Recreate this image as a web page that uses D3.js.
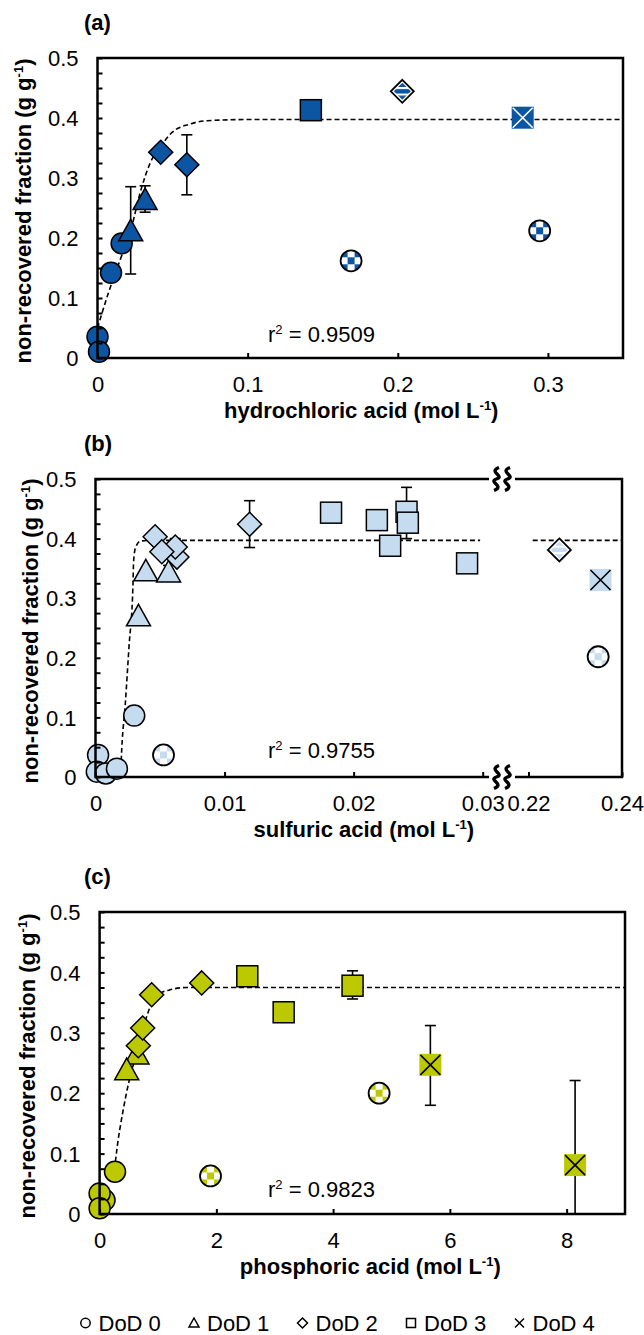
<!DOCTYPE html>
<html>
<head>
<meta charset="utf-8">
<script src="https://cdn.jsdelivr.net/npm/d3@7"></script>
<style>
body { margin: 0; background: #fff; }
svg text { font-family: "Liberation Sans", Arial, sans-serif; fill: #000; }
</style>
</head>
<body>
<svg id="chart" width="644" height="1335"></svg>
<script>
// rows: [acid concentration, non-recovered fraction, marker, error low, error high]
const hclPoints = [
    [0, 0.0355, 'circle'],
    [0.001, 0.0105, 'circle'],
    [0.009, 0.142, 'circle'],
    [0.0161, 0.191, 'circle'],
    [0.0221, 0.212, 'triangle', 0.14, 0.2855],
    [0.0317, 0.264, 'triangle', 0.243, 0.287],
    [0.0421, 0.343, 'diamond'],
    [0.0595, 0.322, 'diamond', 0.272, 0.372],
    [0.1421, 0.413, 'square'],
    [0.1689, 0.162, 'checker'],
    [0.203, 0.4445, 'stripe'],
    [0.2832, 0.4005, 'cross'],
    [0.2945, 0.212, 'checker']
];
const hclFit = [[0, 0.05], [0.0072, 0.108], [0.015, 0.163], [0.0228, 0.219], [0.0283, 0.2745],
    [0.035, 0.3245], [0.0428, 0.355], [0.0495, 0.3755], [0.0617, 0.39], [0.0728, 0.3955],
    [0.1017, 0.3975], [0.35, 0.3975]];

const sulfPoints = [
    [0.0002, 0.037, 'circle'],
    [0.0001, 0.009, 'circle'],
    [0.0008, 0.006, 'circle'],
    [0.00166, 0.014, 'circle'],
    [0.003, 0.103, 'circle'],
    [0.00527, 0.037, 'checker'],
    [0.00333, 0.2705, 'triangle'],
    [0.0039, 0.346, 'triangle'],
    [0.00566, 0.344, 'triangle', 0.33, 0.355],
    [0.00631, 0.369, 'diamond'],
    [0.00618, 0.386, 'diamond', 0.36, 0.40],
    [0.00462, 0.403, 'diamond'],
    [0.00514, 0.378, 'diamond'],
    [0.01194, 0.424, 'diamond', 0.385, 0.4636],
    [0.01825, 0.4435, 'square'],
    [0.0218, 0.431, 'square'],
    [0.02283, 0.388, 'square'],
    [0.0241, 0.445, 'square', 0.40, 0.486],
    [0.0242, 0.4267, 'square'],
    [0.02879, 0.3585, 'square'],
    [0.2266, 0.381, 'stripe'],
    [0.2354, 0.3305, 'cross'],
    [0.2349, 0.2018, 'checker']
];
const sulfFitLeft = [[0.00195, 0], [0.002, 0.03], [0.0023, 0.12], [0.0026, 0.22], [0.0029, 0.32],
    [0.00295, 0.36], [0.0031, 0.385], [0.0035, 0.396], [0.0045, 0.397], [0.0298, 0.397]];
const sulfFitRight = [[0.2209, 0.397], [0.24, 0.397]];

const phosPoints = [
    [0.085, 0.023, 'circle'],
    [0, 0.034, 'circle'],
    [0, 0.0095, 'circle'],
    [0.264, 0.070, 'circle'],
    [1.90, 0.063, 'checker'],
    [4.788, 0.200, 'checker'],
    [0.64, 0.265, 'triangle', 0.25, 0.28],
    [0.464, 0.239, 'triangle'],
    [0.663, 0.2786, 'diamond'],
    [0.738, 0.308, 'diamond'],
    [0.892, 0.363, 'diamond'],
    [1.749, 0.3826, 'diamond'],
    [2.53, 0.3936, 'square'],
    [3.153, 0.334, 'square'],
    [4.333, 0.378, 'square', 0.356, 0.4026],
    [5.666, 0.247, 'cross', 0.18, 0.312],
    [8.145, 0.081, 'cross', 0, 0.221]
];
const phosFit = [[0.24, 0.06], [0.3, 0.11], [0.4, 0.17], [0.5, 0.218], [0.6, 0.255], [0.7, 0.29],
    [0.8, 0.325], [0.9, 0.35], [1.0, 0.363], [1.2, 0.371], [1.5, 0.375], [9, 0.375]];

const yTicks = [0, 0.1, 0.2, 0.3, 0.4, 0.5];
const yTickLabels = ['0', '0.1', '0.2', '0.3', '0.4', '0.5'];
const hclTicks = [0, 0.1, 0.2, 0.3];
const hclTickLabels = ['0', '0.1', '0.2', '0.3'];
const sulfTicksLeft = [0, 0.01, 0.02, 0.03];
const sulfTickLabelsLeft = ['0', '0.01', '0.02', '0.03'];
const sulfTicksRight = [0.22, 0.24];
const sulfTickLabelsRight = ['0.22', '0.24'];
const phosTicks = [0, 2, 4, 6, 8];
const phosTickLabels = ['0', '2', '4', '6', '8'];

const rSquared = ['0.9509', '0.9755', '0.9823'];
const panelLabels = ['(a)', '(b)', '(c)'];
const acidNames = ['hydrochloric acid', 'sulfuric acid', 'phosphoric acid'];
const legendLabels = ['DoD 0', 'DoD 1', 'DoD 2', 'DoD 3', 'DoD 4'];
const legendShapes = ['circle', 'triangle', 'diamond', 'square', 'x'];

const svg = d3.select('#chart');
const defs = svg.append('defs');
const FS = 22;

function makePatterns(id, color){
    let chk = defs.append('pattern').attr('id', 'chk-' + id)
        .attr('patternUnits', 'userSpaceOnUse')
        .attr('x', -10.5).attr('y', -10.5).attr('width', 14).attr('height', 14);
    chk.append('rect').attr('width', 14).attr('height', 14).attr('fill', '#fff');
    chk.append('rect').attr('width', 7).attr('height', 7).attr('fill', color);
    chk.append('rect').attr('x', 7).attr('y', 7).attr('width', 7).attr('height', 7).attr('fill', color);

    let str = defs.append('pattern').attr('id', 'str-' + id)
        .attr('patternUnits', 'userSpaceOnUse')
        .attr('x', 0).attr('y', 2.25).attr('width', 10).attr('height', 6.5);
    str.append('rect').attr('width', 10).attr('height', 6.5).attr('fill', color);
    str.append('rect').attr('width', 10).attr('height', 2).attr('fill', '#fff');
}

function drawMarker(g, type, color, id, crossColor){
    switch(type){
        case 'circle':
            g.append('circle').attr('r', 10.5).attr('fill', color)
                .attr('stroke', '#000').attr('stroke-width', 1.5);
            break;
        case 'checker':
            g.append('circle').attr('r', 10.5).attr('fill', 'url(#chk-' + id + ')')
                .attr('stroke', '#000').attr('stroke-width', 1.8);
            break;
        case 'triangle':
            g.append('path').attr('d', 'M0,-11.5L12,10L-12,10Z').attr('fill', color)
                .attr('stroke', '#000').attr('stroke-width', 1.5).attr('stroke-linejoin', 'miter');
            break;
        case 'diamond':
            g.append('path').attr('d', 'M0,-12L12,0L0,12L-12,0Z').attr('fill', color)
                .attr('stroke', '#000').attr('stroke-width', 1.5);
            break;
        case 'stripe':
            g.append('path').attr('d', 'M0,-11.5L11.5,0L0,11.5L-11.5,0Z').attr('fill', '#fff')
                .attr('stroke', '#000').attr('stroke-width', 1.8);
            g.append('path').attr('d', 'M0,-8.5L8.5,0L0,8.5L-8.5,0Z').attr('fill', 'url(#str-' + id + ')');
            break;
        case 'square':
            g.append('rect').attr('x', -10.5).attr('y', -10.5).attr('width', 21).attr('height', 21)
                .attr('fill', color).attr('stroke', '#000').attr('stroke-width', 1.5);
            break;
        case 'cross':
            g.append('rect').attr('x', -11).attr('y', -11).attr('width', 22).attr('height', 22)
                .attr('fill', color);
            g.append('path').attr('d', 'M-10,-10L10,10M10,-10L-10,10')
                .attr('stroke', crossColor).attr('stroke-width', 1.6).attr('fill', 'none');
            break;
    }
}

function addSupText(sel, before, sup, after){
    sel.append('tspan').text(before);
    sel.append('tspan').attr('font-size', 13).attr('dy', -8).text(sup);
    sel.append('tspan').attr('dy', 8).text(after);
}

function drawPanel(p, idx){
    let g = svg.append('g');
    makePatterns(p.id, p.color);

    let y = d3.scaleLinear().domain([0, 0.5]).range([p.bottom, p.top]);
    let x = p.x;

    // fitted curves
    let lineFunc = d3.line()
        .curve(d3.curveMonotoneX)
        .x((d)=>{ return x(d[0]); })
        .y((d)=>{ return y(d[1]); });

    p.fits.forEach((f)=>{
        g.append('path')
            .attr('d', lineFunc(f))
            .attr('fill', 'none')
            .attr('stroke', '#000')
            .attr('stroke-width', 1.6)
            .attr('stroke-dasharray', '5,3');
    });

    // error bars
    let withErr = p.points.filter((d)=>{ return d.length > 3; });
    let eb = g.append('g').attr('stroke', '#000').attr('stroke-width', 1.6);
    withErr.forEach((d)=>{
        let cx = x(d[0]);
        eb.append('line').attr('x1', cx).attr('x2', cx).attr('y1', y(d[3])).attr('y2', y(d[4]));
        eb.append('line').attr('x1', cx - 5.5).attr('x2', cx + 5.5).attr('y1', y(d[3])).attr('y2', y(d[3]));
        eb.append('line').attr('x1', cx - 5.5).attr('x2', cx + 5.5).attr('y1', y(d[4])).attr('y2', y(d[4]));
    });

    // markers
    g.append('g').selectAll('.pt')
        .data(p.points)
        .enter()
        .append('g')
        .attr('class', 'pt')
        .attr('transform', (d)=>{ return 'translate(' + x(d[0]) + ',' + y(d[1]) + ')'; })
        .each(function(d){ drawMarker(d3.select(this), d[2], p.color, p.id, p.crossColor); });

    // y axis: inward minor ticks + labels
    g.append('g')
        .attr('transform', 'translate(' + p.left + ',0)')
        .call(d3.axisRight(y).tickValues(d3.range(0, 0.501, 0.025)).tickSize(5).tickFormat(''))
        .call((a)=>{ a.select('.domain').remove(); a.selectAll('line').attr('stroke-width', 2); });

    g.append('g')
        .attr('transform', 'translate(' + p.left + ',0)')
        .call(d3.axisLeft(y).tickValues(yTicks).tickSize(0).tickPadding(19)
            .tickFormat((d, i)=>{ return yTickLabels[i]; }))
        .call((a)=>{
            a.select('.domain').remove();
            a.selectAll('text').attr('font-size', FS).attr('font-family', null).attr('dy', '0.35em');
        });

    // x axis
    p.xAxes.forEach((ax)=>{
        g.append('g')
            .attr('transform', 'translate(0,' + p.bottom + ')')
            .call(d3.axisTop(ax.scale).tickValues(ax.ticks).tickSize(5).tickFormat(''))
            .call((a)=>{ a.select('.domain').remove(); a.selectAll('line').attr('stroke-width', 2); });
        g.append('g')
            .attr('transform', 'translate(0,' + p.bottom + ')')
            .call(d3.axisBottom(ax.scale).tickValues(ax.ticks).tickSize(0).tickPadding(18)
                .tickFormat((d, i)=>{ return ax.labels[i]; }))
            .call((a)=>{
                a.select('.domain').remove();
                a.selectAll('text').attr('font-size', FS).attr('font-family', null);
            });
    });

    // frame
    let frame = g.append('g').attr('stroke', '#000').attr('stroke-width', 2.5).attr('fill', 'none');
    if(p.breakAt){
        let b = p.breakAt;
        frame.append('path').attr('d',
            'M' + b[0] + ',' + p.top + 'H' + p.left + 'V' + p.bottom + 'H' + b[0] +
            'M' + b[1] + ',' + p.top + 'H' + p.right + 'V' + p.bottom + 'H' + b[1]);
        let cx = (b[0] + b[1]) / 2;
        [p.top, p.bottom].forEach((yy)=>{
            [-5.5, 5.5].forEach((dx)=>{
                frame.append('path')
                    .attr('transform', 'translate(' + (cx + dx) + ',' + yy + ')')
                    .attr('d', 'M2.5,-11.5C-9,-7 9,-3 0,0C-9,3 9,7 -2.5,11.5')
                    .attr('stroke-width', 3.4);
            });
        });
    } else {
        frame.append('rect')
            .attr('x', p.left).attr('y', p.top)
            .attr('width', p.right - p.left).attr('height', p.bottom - p.top);
    }

    // texts
    svg.append('text')
        .attr('x', 84).attr('y', p.top - 28)
        .attr('font-size', FS).attr('font-weight', 'bold')
        .text(panelLabels[idx]);

    let rt = svg.append('text')
        .attr('x', 268).attr('y', p.bottom - p.rOffset)
        .attr('font-size', FS);
    addSupText(rt, 'r', '2', ' = ' + rSquared[idx]);

    let xt = svg.append('text')
        .attr('x', (p.left + p.right) / 2 + p.xTitleShift).attr('y', p.bottom + 60)
        .attr('text-anchor', 'middle')
        .attr('font-size', FS).attr('font-weight', 'bold');
    addSupText(xt, acidNames[idx] + ' (mol L', '-1', ')');

    let yt = svg.append('text')
        .attr('transform', 'translate(' + p.yTitleX + ',' + ((p.top + p.bottom) / 2 + 3) + ') rotate(-90)')
        .attr('text-anchor', 'middle')
        .attr('font-size', FS).attr('font-weight', 'bold');
    addSupText(yt, 'non-recovered fraction (g g', '-1', ')');
}

let hclX = d3.scaleLinear().domain([0, 0.35]).range([97.5, 623]);
let sulfXLeft = d3.scaleLinear().domain([0, 0.03]).range([95.5, 482.7]);
let sulfXRight = d3.scaleLinear().domain([0.22, 0.24]).range([528.5, 622]);
let sulfX = (v)=>{ return v < 0.1 ? sulfXLeft(v) : sulfXRight(v); };
let phosX = d3.scaleLinear().domain([0, 9]).range([99.6, 625]);

const panels = [
    {id: 'a', points: hclPoints, fits: [hclFit], color: '#0c55a2', crossColor: '#fff',
     x: hclX, left: 97.5, right: 623, top: 58, bottom: 358, rOffset: 16, yTitleX: 31, xTitleShift: 1,
     xAxes: [{scale: hclX, ticks: hclTicks, labels: hclTickLabels}]},
    {id: 'b', points: sulfPoints, fits: [sulfFitLeft, sulfFitRight], color: '#c5dbf0', crossColor: '#000',
     x: sulfX, left: 95.5, right: 622, top: 479, bottom: 777, rOffset: 19, yTitleX: 38, xTitleShift: 5,
     breakAt: [489, 515],
     xAxes: [{scale: sulfXLeft, ticks: sulfTicksLeft, labels: sulfTickLabelsLeft},
             {scale: sulfXRight, ticks: sulfTicksRight, labels: sulfTickLabelsRight}]},
    {id: 'c', points: phosPoints, fits: [phosFit], color: '#bdc900', crossColor: '#000',
     x: phosX, left: 99.6, right: 625, top: 912, bottom: 1214, rOffset: 17, yTitleX: 35, xTitleShift: 8,
     xAxes: [{scale: phosX, ticks: phosTicks, labels: phosTickLabels}]}
];

panels.forEach((p, i)=>{ drawPanel(p, i); });

// legend
let legend = svg.append('g').attr('transform', 'translate(0,1323)');
legendLabels.forEach((lab, i)=>{
    let item = legend.append('g').attr('transform', 'translate(' + (85.5 + i * 108.5) + ',0)');
    let s = legendShapes[i];
    let sym = item.append('path').attr('fill', '#fff').attr('stroke', '#000').attr('stroke-width', 1.5);
    if(s === 'circle') sym.attr('d', d3.symbol(d3.symbolCircle, 70)());
    if(s === 'triangle') sym.attr('d', 'M0,-5L5,4L-5,4Z');
    if(s === 'diamond') sym.attr('d', 'M0,-5L5,0L0,5L-5,0Z');
    if(s === 'square') sym.attr('d', 'M-4.5,-4.5H4.5V4.5H-4.5Z');
    if(s === 'x') sym.attr('d', 'M-4.5,-4.5L4.5,4.5M4.5,-4.5L-4.5,4.5');
    item.append('text')
        .attr('x', 13).attr('y', 8)
        .attr('font-size', FS)
        .text(lab);
});
</script>
</body>
</html>
